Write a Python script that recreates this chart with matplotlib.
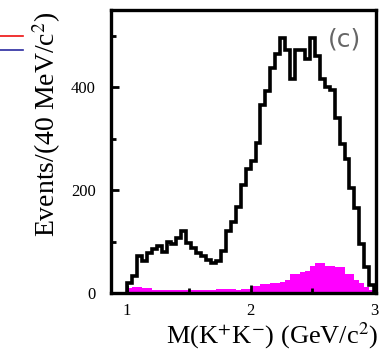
import numpy as np
import matplotlib
matplotlib.use("Agg")
import matplotlib.pyplot as plt
from matplotlib.lines import Line2D
from matplotlib.ticker import MultipleLocator

plt.rcParams['font.family'] = ['Liberation Serif', 'DejaVu Serif']
plt.rcParams['mathtext.fontset'] = 'stix'

# M(K+K-) in 40 MeV bins from 1.0 to 3.0 GeV/c^2
edges = np.round(np.arange(1.0, 3.0001, 0.04), 2)

# data (black outline)
data_counts = [20, 33, 72, 62, 78, 85, 91, 80, 100, 96,
               107, 120, 98, 88, 78, 72, 65, 59, 62, 81,
               120, 137, 168, 210, 240, 256, 291, 366, 392, 437,
               465, 496, 473, 415, 473, 473, 454, 496, 460, 415,
               400, 395, 340, 289, 260, 204, 165, 95, 50, 15]

# background (magenta fill)
bkg_counts = [10, 11, 11, 10, 10, 6, 5, 5, 5, 5,
              5, 5, 5, 5, 5, 5, 5, 5, 7, 7,
              8, 8, 6, 7, 7, 13, 13, 17, 17, 20,
              20, 22, 25, 36, 36, 40, 42, 52, 59, 59,
              52, 52, 50, 50, 36, 36, 25, 20, 12, 5]

fig = plt.figure(figsize=(3.81, 3.53), dpi=100)
ax = fig.add_axes([0.291, 0.170, 0.696, 0.802])

ax.stairs(bkg_counts, edges, fill=True, color='#ff00ff', lw=0)
ax.stairs(data_counts, edges, color='black', lw=2.6)

ax.set_xlim(0.87, 3.015)
ax.set_ylim(0, 550)

ax.xaxis.set_major_locator(MultipleLocator(1))
ax.xaxis.set_minor_locator(MultipleLocator(0.5))
ax.yaxis.set_major_locator(MultipleLocator(200))
ax.yaxis.set_minor_locator(MultipleLocator(100))
ax.set_xticklabels([], minor=True)

ax.tick_params(which='both', direction='in', top=False, right=False, width=2, labelsize=12)
ax.tick_params(which='major', length=6)
ax.tick_params(which='minor', length=3.5)
ax.tick_params(axis='y', pad=11)
ax.tick_params(axis='x', pad=7)
for s in ax.spines.values():
    s.set_linewidth(2.4)

fig.text(345 / 381, 1 - 39 / 353, '(c)', family='DejaVu Sans', fontsize=18,
         color='#666666', ha='center', va='center')

fig.text(47 / 381, 1 - 124 / 353, r'Events/(40 MeV/c$^{2}$)', rotation=90,
         fontsize=20, ha='center', va='center')
fig.text(378 / 381, 1 - 336 / 353, r'M(K$^{+}$K$^{-}$) (GeV/c$^{2}$)',
         fontsize=19, ha='right', va='center')

# legend fragments from the neighbouring panel
fig.add_artist(Line2D([0, 23 / 381], [1 - 36 / 353] * 2, color='#ee1111', lw=1.2))
fig.add_artist(Line2D([0, 23 / 381], [1 - 50 / 353] * 2, color='#2a2aa0', lw=1.2))

fig.savefig('out.png', dpi=100)
